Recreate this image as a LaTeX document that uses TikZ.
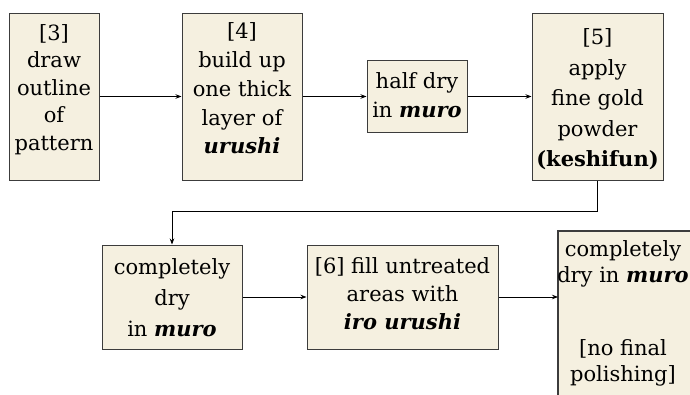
\documentclass[tikz,border=0pt]{standalone}
\usepackage{fontspec}
\setmainfont{DejaVu Serif}
\usetikzlibrary{arrows.meta}
\definecolor{boxfill}{RGB}{245,240,224}
\definecolor{boxline}{RGB}{60,60,60}
\tikzset{
  stepbox/.style={draw=boxline, line width=1pt, fill=boxfill, inner sep=0pt},
  steptext/.style={inner sep=0pt, align=center, font=\fontsize{21}{#1}\selectfont},
  steptext/.default=29,
  edge/.style={draw=boxline, line width=1.2pt},
  flow/.style={draw=black, line width=0.8pt, -{Stealth[length=6pt,width=4.5pt]}}
}
\begin{document}
\begin{tikzpicture}[x=1pt,y=-1pt]
\useasboundingbox[fill=white] (0,0) rectangle (690,394);
% top row: boxes
\node[stepbox, minimum width=90pt,  minimum height=167pt] (s3)   at (54,96.5) {};
\node[stepbox, minimum width=120pt, minimum height=167pt] (s4)   at (242,96.5) {};
\node[stepbox, minimum width=100pt, minimum height=72pt]  (half) at (417,96.5) {};
\node[stepbox, minimum width=131pt, minimum height=167pt] (s5)   at (597.5,96.5) {};
% bottom row: boxes (the last one is cut by the right and lower edges)
\node[stepbox, minimum width=140pt, minimum height=104pt] (dry) at (172,297) {};
\node[stepbox, minimum width=191pt, minimum height=104pt] (s6)  at (402.5,297) {};
\node[stepbox, draw=none, minimum width=132pt, minimum height=163pt, anchor=north west]
  (fin) at (558,231) {};
\draw[edge] (fin.south west) -- (fin.north west) -- (fin.north east);
% step texts
\node[steptext=27.5] (s3t) at (54,89.5) {[3]\\draw\\outline\\of\\pattern};
\node[steptext=28.7] (s4t) at (242,88.5)
  {[4]\\build up\\one thick\\layer of\\\textbf{\textit{urushi}}};
\node[steptext=29] (halft) at (417,95.5) {half dry\\in \textbf{\textit{muro}}};
\node[steptext=30.5] (s5t) at (597.5,99.5)
  {[5]\\apply\\fine gold\\powder\\\textbf{(keshifun)}};
\node[steptext=31] (dryt) at (172,297.5) {completely\\dry\\in \textbf{\textit{muro}}};
\node[steptext=28] (s6t) at (402.5,294)
  {[6] fill untreated\\areas with\\\textbf{\textit{iro urushi}}};
\node[steptext=26.5] (fint) at (623,313.5)
  {completely\\dry in \textbf{\textit{muro}}\\[46pt]{}[no final\\polishing]};
% connectors
\draw[flow] (s3) -- (s4);
\draw[flow] (s4) -- (half);
\draw[flow] (half) -- (s5);
\draw[flow] (s5.south) -- ++(0,31) -| (dry.north);
\draw[flow] (dry) -- (s6);
\draw[flow] (s6.east) -- (s6.east -| fin.west);
\end{tikzpicture}
\end{document}
